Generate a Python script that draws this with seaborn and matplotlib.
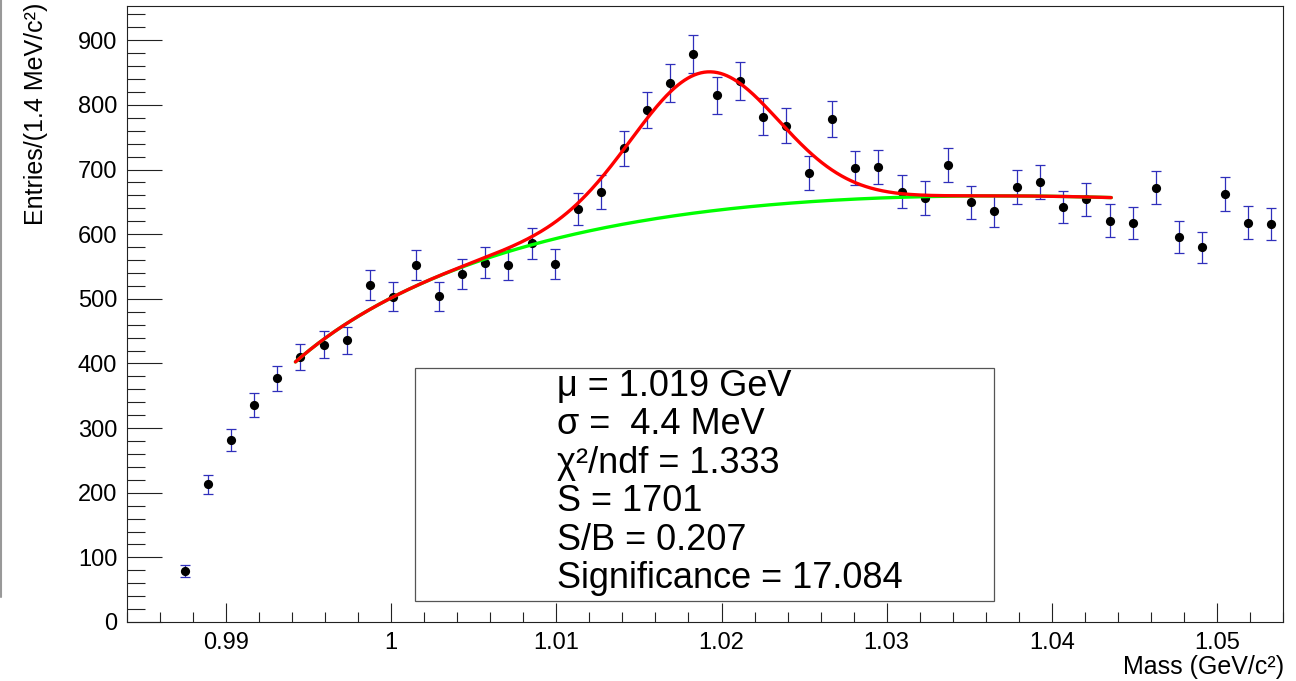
import numpy as np
import pandas as pd
import matplotlib
matplotlib.use("Agg")
import matplotlib.pyplot as plt
from matplotlib.lines import Line2D
from matplotlib.patches import Rectangle
from matplotlib.ticker import MultipleLocator, FuncFormatter
import seaborn as sns

# Histogram binning: 50 bins of 1.4 MeV from 0.984 to 1.054 GeV
mass_low = 0.984
mass_high = 1.054
bin_width = 0.0014
first_filled_bin = 2

# Bin contents (entries per 1.4 MeV), starting at the first non-empty bin
counts = [79, 213, 282, 336, 377, 410, 429, 436, 521, 503, 552, 504,
          539, 556, 553, 586, 554, 639, 665, 733, 792, 834, 879, 815,
          837, 782, 768, 695, 778, 702, 704, 666, 656, 707, 649, 636,
          673, 681, 642, 654, 621, 617, 672, 596, 580, 662, 618, 616]

# Fit model: Gaussian signal on a threshold-type background
mu = 1.019
sigma = 0.0044
signal_yield = 1701
bkg_norm = 3906.0
bkg_power = 0.4437
bkg_slope = 9.0
kk_threshold = 0.98735
fit_low, fit_high = 0.9942, 1.0436

stats_lines = ["\u03bc = 1.019 GeV",
               "\u03c3 =  4.4 MeV",
               "\u03c7\u00b2/ndf = 1.333",
               "S = 1701",
               "S/B = 0.207",
               "Significance = 17.084"]

x_title = "Mass (GeV/c\u00b2)"
y_title = "Entries/(1.4 MeV/c\u00b2)"

# ---------------------------------------------------------------------------
sns.set_style("white")
plt.rcParams["font.family"] = ["Liberation Sans", "DejaVu Sans"]
plt.rcParams["text.color"] = "black"
plt.rcParams["xtick.color"] = "black"
plt.rcParams["ytick.color"] = "black"

W, H = 1296, 681
fig = plt.figure(figsize=(W / 100, H / 100), dpi=100)
fig.patch.set_facecolor("white")

ax_l, ax_r, ax_t, ax_b = 127, 1283, 6, 622
ax = fig.add_axes([ax_l / W, 1 - ax_b / H, (ax_r - ax_l) / W, (ax_b - ax_t) / H])

bins = np.arange(first_filled_bin, first_filled_bin + len(counts))
df = pd.DataFrame({
    "mass": mass_low + (bins + 0.5) * bin_width,
    "entries": np.array(counts, dtype=float),
})
df["err"] = np.sqrt(df["entries"])

# Fit curves
xf = np.linspace(fit_low, fit_high, 500)
u = xf - kk_threshold
background = bkg_norm * u ** bkg_power * np.exp(-bkg_slope * u)
amp = signal_yield * bin_width / (sigma * np.sqrt(2 * np.pi))
total = background + amp * np.exp(-0.5 * ((xf - mu) / sigma) ** 2)
curves = pd.DataFrame({"mass": xf, "bkg": background, "total": total})

# Data points with Poisson errors
ax.errorbar(df["mass"], df["entries"], yerr=df["err"], fmt="none",
            ecolor="#2f2fbb", elinewidth=0.9, capsize=3.4, capthick=0.9,
            zorder=2)
sns.scatterplot(data=df, x="mass", y="entries", color="black", s=44,
                linewidth=0, ax=ax, zorder=3, legend=False)

sns.lineplot(data=curves, x="mass", y="bkg", color="#00ff00", lw=2.4,
             ax=ax, zorder=4)
sns.lineplot(data=curves, x="mass", y="total", color="#ff0000", lw=2.4,
             ax=ax, zorder=5)

ax.set_xlim(mass_low, mass_high)
ax.set_ylim(0, 953)
ax.set_xlabel("")
ax.set_ylabel("")

for sp in ax.spines.values():
    sp.set_visible(True)
    sp.set_color("#222222")
    sp.set_linewidth(0.8)

ax.xaxis.set_major_locator(MultipleLocator(0.01))
ax.xaxis.set_minor_locator(MultipleLocator(0.002))
ax.yaxis.set_major_locator(MultipleLocator(100))
ax.yaxis.set_minor_locator(MultipleLocator(20))
ax.xaxis.set_major_formatter(FuncFormatter(
    lambda v, p: f"{v:.2f}".rstrip("0").rstrip(".")))
ax.yaxis.set_major_formatter(FuncFormatter(lambda v, p: f"{v:.0f}"))

ax.tick_params(axis="y", which="major", direction="in", length=25,
               width=0.8, color="#222222", left=True, right=False,
               labelsize=17, pad=7, labelcolor="black")
ax.tick_params(axis="y", which="minor", direction="in", length=12.7,
               width=0.8, color="#222222", left=True, right=False)
ax.tick_params(axis="x", which="major", direction="in", length=13.7,
               width=0.8, color="#222222", bottom=True, top=False,
               labelsize=17, pad=7, labelcolor="black")
ax.tick_params(axis="x", which="minor", direction="in", length=7.2,
               width=0.8, color="#222222", bottom=True, top=False)

# Axis titles, right/top aligned
fig.text(1284 / W, 1 - 674 / H, x_title, ha="right", va="baseline",
         fontsize=18, color="black")
fig.text(36 / W, 1 - 3 / H, y_title, ha="center", va="top",
         rotation=90, fontsize=18, color="black")

# Fit summary box
fig.add_artist(Rectangle((415 / W, 1 - 601 / H), (994 - 415) / W,
                         (601 - 368) / H, transform=fig.transFigure,
                         facecolor="white", edgecolor="#555555", lw=0.9,
                         zorder=6))
baselines = [396, 434.5, 473, 511, 549.5, 588]
for line, yb in zip(stats_lines, baselines):
    fig.text(557 / W, 1 - yb / H, line, ha="left", va="baseline",
             fontsize=26, color="black", zorder=7)

# Canvas edge line
fig.add_artist(Line2D([1 / W, 1 / W], [1 - 597 / H, 1], color="#999999",
                      lw=1.5, transform=fig.transFigure))

fig.savefig("out.png", dpi=100, facecolor="white")
